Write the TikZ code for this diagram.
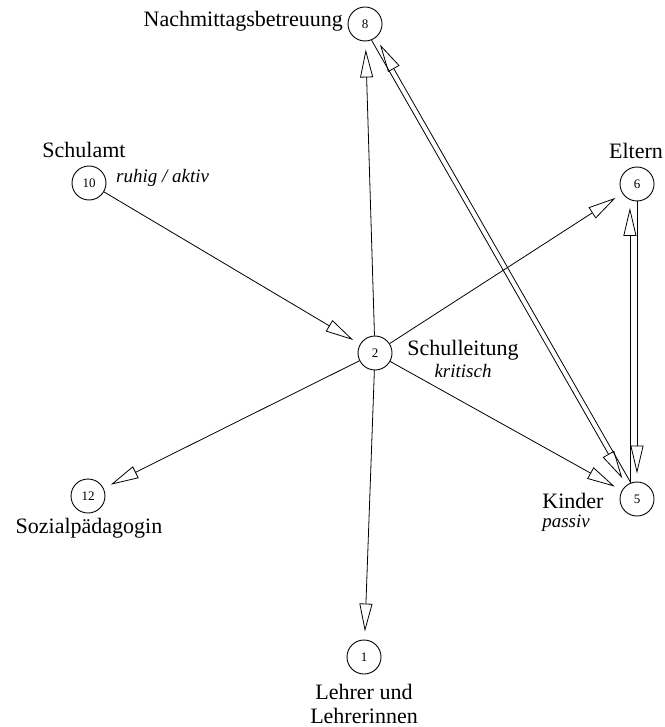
\documentclass[tikz,border=0pt]{standalone}
\usepackage{fontspec}
\setmainfont{Liberation Serif}
\usetikzlibrary{arrows.meta}

\begin{document}
\begin{tikzpicture}[
    x=1pt, y=-1pt,
    % Style for the numbered circles
    actor/.style={circle, draw=black, line width=0.9pt, minimum size=34pt, inner sep=0pt,
        font=\fontsize{13}{15}\selectfont},
    % Style for the names and the moods
    actorname/.style={inner sep=0pt, font=\fontsize{22}{24}\selectfont},
    mood/.style={inner sep=0pt, font=\fontsize{19}{21}\selectfont\itshape},
    % Style for the open-headed relations
    relation/.style={line width=0.8pt, shorten >=8pt,
        -{Triangle[open, length=28pt, width=13pt, line width=0.8pt]}}
]
    \useasboundingbox (0,0) rectangle (664,727);

    % --- 1. Actors ---
    \node[actor] (n8) at (365,24) {8};
    \node[actor] (n10) at (89,183) {10};
    \node[actor] (n6) at (637,184) {6};
    \node[actor] (n2) at (375,353) {2};
    \node[actor] (n5) at (637,499) {5};
    \node[actor] (n12) at (88,496) {12};
    \node[actor] (n1) at (364,657) {1};

    % --- 2. Names ---
    \node[actorname, anchor=east] (l8) at (343,21) {Nachmittagsbetreuung};
    \node[actorname] (l10) at (84,150) {Schulamt};
    \node[mood, anchor=west] (m10) at (116,178) {ruhig / aktiv};
    \node[actorname] (l6) at (636,151) {Eltern};
    \node[actorname] (l2) at (463,350) {Schulleitung};
    \node[mood] (m2) at (463,371) {kritisch};
    \node[actorname] (l5) at (573,501) {Kinder};
    \node[mood] (m5) at (566,523) {passiv};
    \node[actorname] (l12) at (89,528) {Sozialpädagogin};
    \node[actorname, align=center] (l1) at (364,704) {Lehrer und\\Lehrerinnen};

    % --- 3. Relations ---
    \draw[relation] (n10) -- (n2);
    \draw[relation] (n2) -- (n8);
    \draw[relation] (n2) -- (n6);
    \draw[relation] (n2) -- (n12);
    \draw[relation] (n2) -- (n5);
    \draw[relation] (n2) -- (n1);

    % two-way pairs, drawn side by side
    \draw[relation] (n5.111.4) -- (n8.-51.6);
    \draw[relation] (n8.-68.4) -- (n5.128.3);
    \draw[relation] (n5.114) -- (n6.246);
    \draw[relation] (n6.270) -- (n5.90);

\end{tikzpicture}
\end{document}
